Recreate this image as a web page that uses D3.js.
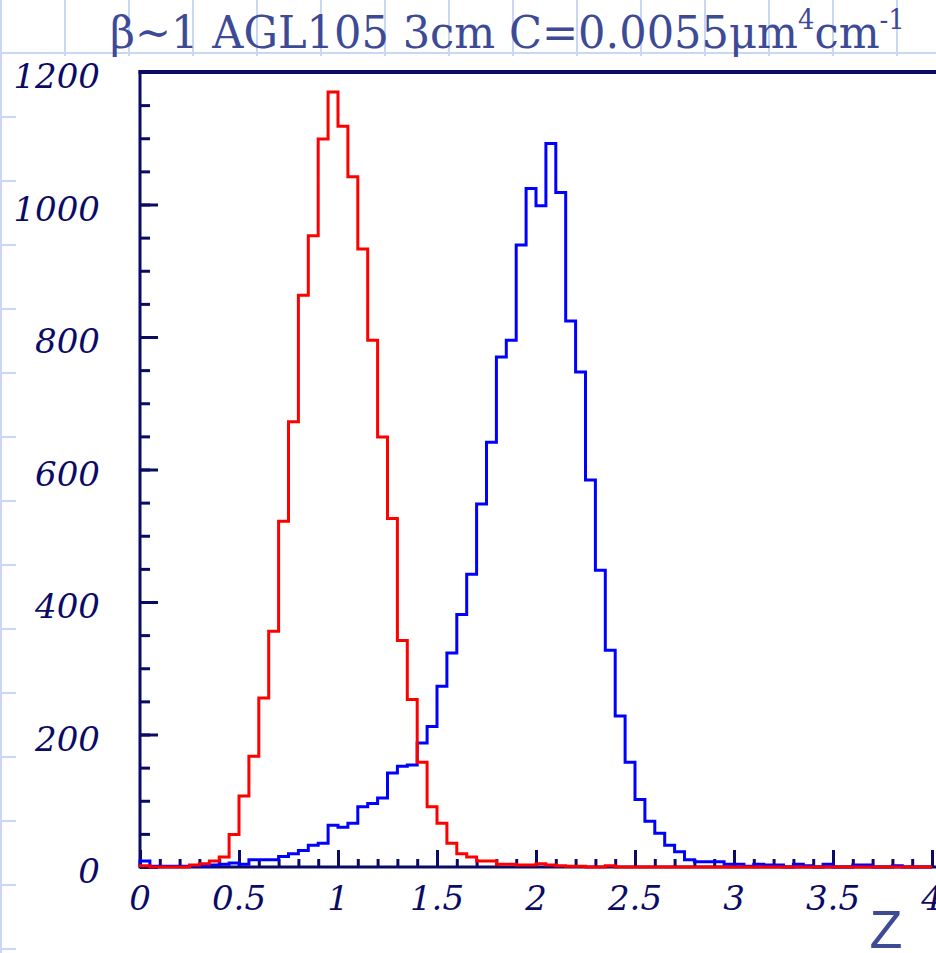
<!DOCTYPE html>
<html>
<head>
<meta charset="utf-8">
<script src="https://cdn.jsdelivr.net/npm/d3@7"></script>
<style>
  body { margin: 0; background: #ffffff; }
  svg { display: block; }
  .serif { font-family: "DejaVu Serif", "Liberation Serif", serif; }
</style>
</head>
<body>
<div id="vis"></div>
<script>
// Histogram data: 80 bins of width 0.05 from Z = 0 to Z = 4
const BIN_WIDTH = 0.05;
const X_DOMAIN = [0, 4];
const Y_DOMAIN = [0, 1200];

// red histogram (lower charge peak)
const RED_COUNTS = [2, 0, 0, 0, 0, 3, 5, 9, 15, 49,
                    107, 167, 255, 356, 522, 672, 863, 953, 1099, 1170,
                    1118, 1042, 933, 795, 649, 526, 342, 253, 158, 91,
                    66, 36, 20, 15, 9, 9, 4, 4, 3, 3,
                    5, 3, 2, 1, 1, 0, 0, 2, 0, 0,
                    0, 0, 0, 0, 0, 0, 0, 0, 0, 0,
                    0, 0, 0, 0, 0, 0, 0, 0, 0, 0,
                    0, 0, 0, 0, 0, 0, 0, 0, 0, 0];

// blue histogram (higher charge peak)
const BLUE_COUNTS = [9, 1, 1, 1, 1, 2, 2, 3, 4, 6,
                     4, 11, 11, 11, 16, 20, 25, 33, 36, 63,
                     60, 66, 91, 96, 104, 142, 152, 154, 187, 212,
                     273, 323, 381, 442, 548, 641, 770, 795, 939, 1024,
                     998, 1092, 1018, 824, 747, 584, 448, 327, 228, 158,
                     102, 69, 51, 33, 23, 11, 8, 8, 8, 4,
                     4, 1, 4, 3, 3, 0, 4, 2, 0, 4,
                     0, 0, 3, 3, 0, 0, 2, 0, 0, 0];

const X_TICK_LABELS = ["0", "0.5", "1", "1.5", "2", "2.5", "3", "3.5", "4"];
const Y_TICK_LABELS = ["0", "200", "400", "600", "800", "1000", "1200"];

// Frame
const FRAME_WIDTH = 936;
const FRAME_HEIGHT = 953;
const MARGINS = {left: 140, right: 4, top: 72, bottom: 86};

const AXIS_COLOR = "#0b0b66";
const SLIDE_COLOR = "#3d4a96";
const GRID_COLOR = "#c9d6f4";

const FRAME = d3.select("#vis")
                .append("svg")
                .attr("width", FRAME_WIDTH)
                .attr("height", FRAME_HEIGHT);

// Slide background grid (light blue squares)
const GRID = FRAME.append("g").attr("stroke", GRID_COLOR).attr("stroke-width", 2);
d3.range(1, FRAME_WIDTH, 64).forEach((x) => {
  GRID.append("line").attr("x1", x).attr("x2", x).attr("y1", 0).attr("y2", FRAME_HEIGHT);
});
d3.range(53, FRAME_HEIGHT, 64).forEach((y) => {
  GRID.append("line").attr("x1", 0).attr("x2", FRAME_WIDTH).attr("y1", y).attr("y2", y);
});

// White chart picture pasted over the grid
FRAME.append("rect")
     .attr("x", 16).attr("y", 56)
     .attr("width", FRAME_WIDTH - 16).attr("height", FRAME_HEIGHT - 56)
     .attr("fill", "#ffffff");

// Scales
const X_SCALE = d3.scaleLinear()
                  .domain(X_DOMAIN)
                  .range([MARGINS.left, FRAME_WIDTH - MARGINS.right]);

const Y_SCALE = d3.scaleLinear()
                  .domain(Y_DOMAIN)
                  .range([FRAME_HEIGHT - MARGINS.bottom, MARGINS.top]);

// Axes: ticks drawn inside the frame, labels placed by hand
const xAxisMinor = d3.axisTop(X_SCALE)
                     .tickValues(d3.range(0, 41).map((i) => i / 10))
                     .tickSizeInner(8).tickSizeOuter(0).tickFormat("");
const xAxisMajor = d3.axisTop(X_SCALE)
                     .tickValues(d3.range(0, 9).map((i) => i / 2))
                     .tickSizeInner(17).tickSizeOuter(0).tickFormat("");
const yAxisMinor = d3.axisRight(Y_SCALE)
                     .tickValues(d3.range(0, 1201, 50))
                     .tickSizeInner(10).tickSizeOuter(0).tickFormat("");
const yAxisMajor = d3.axisRight(Y_SCALE)
                     .tickValues(d3.range(0, 1201, 200))
                     .tickSizeInner(18).tickSizeOuter(0).tickFormat("");

[xAxisMinor, xAxisMajor].forEach((ax) => {
  FRAME.append("g")
       .attr("transform", "translate(0," + Y_SCALE(0) + ")")
       .call(ax)
       .call((g) => g.select(".domain").remove())
       .selectAll("line").attr("stroke", AXIS_COLOR).attr("stroke-width", 3);
});

[yAxisMinor, yAxisMajor].forEach((ax) => {
  FRAME.append("g")
       .attr("transform", "translate(" + X_SCALE(0) + ",0)")
       .call(ax)
       .call((g) => g.select(".domain").remove())
       .selectAll("line").attr("stroke", AXIS_COLOR).attr("stroke-width", 3);
});

// Frame lines: left, bottom, top
FRAME.append("line")
     .attr("x1", X_SCALE(0)).attr("x2", X_SCALE(0))
     .attr("y1", Y_SCALE(1200) - 1.5).attr("y2", Y_SCALE(0) + 1.5)
     .attr("stroke", AXIS_COLOR).attr("stroke-width", 3);
FRAME.append("line")
     .attr("x1", X_SCALE(0)).attr("x2", FRAME_WIDTH)
     .attr("y1", Y_SCALE(0)).attr("y2", Y_SCALE(0))
     .attr("stroke", AXIS_COLOR).attr("stroke-width", 3);
FRAME.append("line")
     .attr("x1", X_SCALE(0) - 1.5).attr("x2", FRAME_WIDTH)
     .attr("y1", Y_SCALE(1200)).attr("y2", Y_SCALE(1200))
     .attr("stroke", AXIS_COLOR).attr("stroke-width", 4);

// Tick labels
FRAME.append("g").selectAll("text")
     .data(Y_TICK_LABELS)
     .enter()
     .append("text")
       .attr("class", "serif")
       .attr("x", 100)
       .attr("y", (d) => Y_SCALE(+d) + 16)
       .attr("text-anchor", "end")
       .attr("font-style", "italic")
       .attr("font-size", "34px")
       .attr("fill", AXIS_COLOR)
       .text((d) => d);

FRAME.append("g").selectAll("text")
     .data(X_TICK_LABELS)
     .enter()
     .append("text")
       .attr("class", "serif")
       .attr("x", (d) => X_SCALE(+d))
       .attr("y", 910)
       .attr("text-anchor", "middle")
       .attr("font-style", "italic")
       .attr("font-size", "34px")
       .attr("fill", AXIS_COLOR)
       .text((d) => d);

// Histogram outline as a step path
function histPath(counts) {
  let pts = [[0, 0]];
  counts.forEach((c, i) => {
    pts.push([i * BIN_WIDTH, c]);
    pts.push([(i + 1) * BIN_WIDTH, c]);
  });
  pts.push([counts.length * BIN_WIDTH, 0]);
  return d3.line()
           .x((d) => X_SCALE(d[0]))
           .y((d) => Y_SCALE(d[1]))(pts);
}

FRAME.append("path")
     .attr("d", histPath(BLUE_COUNTS))
     .attr("fill", "none")
     .attr("stroke", "#0000ff")
     .attr("stroke-width", 3);

FRAME.append("path")
     .attr("d", histPath(RED_COUNTS))
     .attr("fill", "none")
     .attr("stroke", "#ff0000")
     .attr("stroke-width", 3);

// Title (squeezed horizontally to the width of the original Times text)
const TITLE_LEFT = 110;
const TITLE_WIDTH = 795;
const TITLE_G = FRAME.append("g");
const TITLE = TITLE_G.append("text")
     .attr("class", "serif")
     .attr("x", 0)
     .attr("y", 0)
     .attr("font-size", "45px")
     .attr("fill", SLIDE_COLOR);
TITLE.append("tspan").text("β~1 AGL105 3cm C=0.0055μm");
TITLE.append("tspan").attr("font-size", "27px").attr("dy", -19).text("4");
TITLE.append("tspan").attr("dy", 19).text("cm");
TITLE.append("tspan").attr("font-size", "27px").attr("dy", -19).text("-1");
const titleBox = TITLE.node().getBBox();
TITLE_G.attr("transform", "translate(" + TITLE_LEFT + ",48) scale(" + (TITLE_WIDTH / titleBox.width) + ",1)");

// Axis name
FRAME.append("text")
     .attr("x", 886)
     .attr("y", 948)
     .attr("text-anchor", "middle")
     .attr("font-family", "Liberation Sans, Arial, sans-serif")
     .attr("font-size", "54px")
     .attr("fill", SLIDE_COLOR)
     .text("Z");
</script>
</body>
</html>
